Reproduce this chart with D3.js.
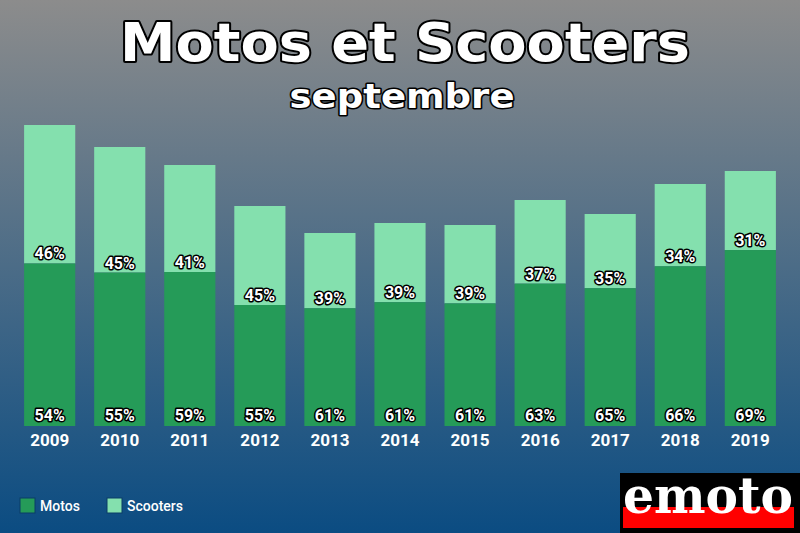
<!DOCTYPE html>
<html><head><meta charset="utf-8">
<script src="https://cdn.jsdelivr.net/npm/d3@7"></script>
<style>body{margin:0}svg{display:block}</style>
</head><body><svg id="chart" width="800" height="533"></svg>
<script>
const years = ["2009","2010","2011","2012","2013","2014","2015","2016","2017","2018","2019"];
const totals = [301, 279, 261, 220, 193, 203, 201, 226, 212, 242, 255];
const motosPct = [54, 55, 59, 55, 61, 61, 61, 63, 65, 66, 69];
const scootersPct = [46, 45, 41, 45, 39, 39, 39, 37, 35, 34, 31];

const svg = d3.select("#chart");
const W = 800, H = 533;

// background gradient
const defs = svg.append("defs");
const grad = defs.append("linearGradient").attr("id", "bg").attr("x1", 0).attr("y1", 0).attr("x2", 0).attr("y2", 1);
grad.append("stop").attr("offset", "0%").attr("stop-color", "#8c8c8c");
grad.append("stop").attr("offset", "100%").attr("stop-color", "#0b4c82");
svg.append("rect").attr("width", W).attr("height", H).attr("fill", "url(#bg)");

const x = d3.scaleBand().domain(years).range([15, 785]).paddingInner(0.27).paddingOuter(0.13);
const y = d3.scaleLinear().domain([0, 301]).range([426, 125]);

const data = years.map((yr, i) => ({
  yr, total: totals[i], m: motosPct[i], s: scootersPct[i],
  split: totals[i] * motosPct[i] / 100
}));

const g = svg.append("g");
g.selectAll(".sc").data(data).enter().append("rect")
  .attr("x", d => x(d.yr)).attr("width", x.bandwidth())
  .attr("y", d => y(d.total)).attr("height", d => y(d.split) - y(d.total))
  .attr("fill", "#84e0ae");
g.selectAll(".mo").data(data).enter().append("rect")
  .attr("x", d => x(d.yr)).attr("width", x.bandwidth())
  .attr("y", d => y(d.split)).attr("height", d => y(0) - y(d.split))
  .attr("fill", "#259b58");

const outlined = sel => sel.attr("fill", "#fff").attr("stroke", "#000")
  .attr("stroke-width", 3).attr("paint-order", "stroke").attr("stroke-linejoin", "round")
  .attr("font-family", "Roboto, sans-serif").attr("font-weight", "bold").attr("text-anchor", "middle");

g.selectAll(".lm").data(data).enter().append("text")
  .attr("x", d => x(d.yr) + x.bandwidth() / 2).attr("y", y(0) - 5)
  .attr("font-size", 16).text(d => d.m + "%").call(outlined);
g.selectAll(".ls").data(data).enter().append("text")
  .attr("x", d => x(d.yr) + x.bandwidth() / 2).attr("y", d => y(d.split) - 4)
  .attr("font-size", 16).text(d => d.s + "%").call(outlined);

// x axis labels
const ax = svg.append("g").attr("transform", "translate(0,426)")
  .call(d3.axisBottom(x).tickSize(0).tickPadding(8));
ax.select(".domain").remove();
ax.selectAll("text").attr("fill", "#fff").attr("font-size", 17)
  .attr("font-weight", "bold").attr("font-family", "Roboto, sans-serif");

// titles
svg.append("text").attr("x", 405).attr("y", 61).attr("font-size", 54)
  .attr("textLength", 570).attr("lengthAdjust", "spacingAndGlyphs")
  .text("Motos et Scooters").call(outlined).attr("stroke-width", 4)
  .attr("font-family", "DejaVu Sans, sans-serif");
svg.append("text").attr("x", 402).attr("y", 108).attr("font-size", 33)
  .attr("textLength", 225).attr("lengthAdjust", "spacingAndGlyphs")
  .text("septembre").call(outlined).attr("stroke-width", 3)
  .attr("font-family", "DejaVu Sans, sans-serif");

// legend
const legend = [["Motos", "#259b58", 20], ["Scooters", "#84e0ae", 107]];
legend.forEach(([name, col, lx]) => {
  svg.append("rect").attr("x", lx).attr("y", 498).attr("width", 15).attr("height", 15)
    .attr("fill", col).attr("stroke", "#0a3d66").attr("stroke-width", 1);
  svg.append("text").attr("x", lx + 20).attr("y", 511).attr("fill", "#fff")
    .attr("font-size", 14).attr("font-weight", 500).attr("font-family", "Roboto, sans-serif").text(name);
});

// logo
svg.append("rect").attr("x", 620).attr("y", 473).attr("width", 180).attr("height", 60).attr("fill", "#000");
svg.append("rect").attr("x", 623).attr("y", 507).attr("width", 171).attr("height", 21).attr("fill", "#ff0000");
svg.append("text").attr("x", 708).attr("y", 513).attr("text-anchor", "middle")
  .attr("font-family", "DejaVu Serif, serif").attr("font-weight", "bold").attr("font-size", 50)
  .attr("textLength", 170).attr("lengthAdjust", "spacingAndGlyphs")
  .attr("fill", "#fff").text("emoto");
</script></body></html>
